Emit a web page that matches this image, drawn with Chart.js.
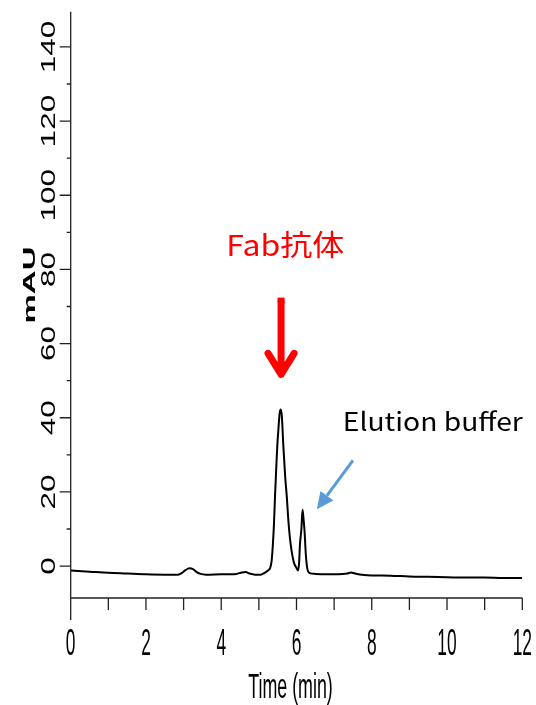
<!DOCTYPE html>
<html>
<head>
<meta charset="utf-8">
<script src="https://cdn.jsdelivr.net/npm/chart.js@4.4.0/dist/chart.umd.min.js"></script>
<style>
  html, body { margin: 0; padding: 0; background: #fff; }
  #chrom { display: block; }
</style>
</head>
<body>
<canvas id="chrom" width="536" height="705"></canvas>
<script>
// retention time (min) and detector response (mAU)
const timeMin = [
  0, 0.5, 1.0, 1.5, 2.0, 2.5, 2.85, 2.95, 3.05, 3.15, 3.25, 3.35, 3.45, 3.6,
  4.0, 4.4, 4.55, 4.65, 4.75, 4.9, 5.05, 5.15, 5.25, 5.3, 5.34, 5.37, 5.40,
  5.43, 5.46, 5.49, 5.52, 5.55, 5.58, 5.61, 5.65, 5.70, 5.74, 5.79, 5.85,
  5.93, 5.99, 6.04, 6.07, 6.09, 6.13, 6.16, 6.18, 6.21, 6.25, 6.29, 6.34,
  6.5, 6.8, 7.1, 7.35, 7.45, 7.55, 7.8, 8.5, 9.0, 9.5, 10.0, 10.5, 11.0,
  11.5, 12.0
];
const absMAU = [
  -1.2, -1.5, -1.8, -2.0, -2.2, -2.3, -2.3, -1.9, -1.1, -0.6, -0.8, -1.6, -2.1, -2.3,
  -2.2, -2.1, -1.7, -1.6, -2.0, -2.3, -2.3, -1.8, -1.1, -0.5, 1.5, 5.5, 11,
  19, 26, 32.5, 37, 41, 42.2, 40.5, 32.5, 24, 19, 11.5, 5.5,
  1.0, -0.3, -1.2, 1.0, 5.5, 10, 15.2, 13.5, 10, 2.8, -0.8, -1.8,
  -2.1, -2.2, -2.2, -2.0, -1.7, -2.0, -2.4, -2.6, -2.8, -2.9, -3.0, -3.1, -3.1,
  -3.2, -3.2
];

const xTicks = [0, 1, 2, 3, 4, 5, 6, 7, 8, 9, 10, 11, 12];
const xLabels = ['0', '', '2', '', '4', '', '6', '', '8', '', '10', '', '12'];
const yMajor = [0, 20, 40, 60, 80, 100, 120, 140];
const yMinor = [10, 30, 50, 70, 90, 110, 130];

const X_MIN = 0, X_MAX = 12;
const Y_MIN = -8.6, Y_MAX = 149.5;

// stretched / condensed text helper; opt.width squeezes or widens to a fixed width
function drawText(ctx, txt, x, y, opt) {
  ctx.save();
  ctx.translate(x, y);
  if (opt.rotate) ctx.rotate(opt.rotate);
  ctx.font = opt.font;
  let sx = opt.sx || 1;
  if (opt.width) sx = opt.width / ctx.measureText(txt).width;
  ctx.scale(sx, 1);
  ctx.fillStyle = opt.color || '#000';
  ctx.textAlign = opt.align || 'center';
  ctx.textBaseline = opt.baseline || 'alphabetic';
  ctx.fillText(txt, 0, opt.dy || 0);
  ctx.restore();
}

const axesPlugin = {
  id: 'axesPlugin',
  afterDraw(chart) {
    const ctx = chart.ctx;
    const xs = chart.scales.x, ys = chart.scales.y;
    const x0 = xs.getPixelForValue(X_MIN), x1 = xs.getPixelForValue(X_MAX);
    const yb = ys.getPixelForValue(Y_MIN), yt = ys.getPixelForValue(Y_MAX);

    ctx.save();
    ctx.strokeStyle = '#222';
    ctx.lineWidth = 1.3;
    ctx.beginPath();
    // y axis (runs past the x axis)
    ctx.moveTo(x0, yt); ctx.lineTo(x0, yb + 22);
    // x axis
    ctx.moveTo(x0, yb); ctx.lineTo(x1, yb);
    xTicks.forEach(v => {
      const px = xs.getPixelForValue(v);
      ctx.moveTo(px, yb); ctx.lineTo(px, yb + 12);
    });
    yMajor.forEach(v => {
      const py = ys.getPixelForValue(v);
      ctx.moveTo(x0 - 11, py); ctx.lineTo(x0, py);
    });
    yMinor.forEach(v => {
      const py = ys.getPixelForValue(v);
      ctx.moveTo(x0 - 4, py); ctx.lineTo(x0, py);
    });
    ctx.stroke();
    ctx.restore();

    // x labels, condensed
    xTicks.forEach((v, i) => {
      if (!xLabels[i]) return;
      drawText(ctx, xLabels[i], xs.getPixelForValue(v), 655,
        { font: '37px "Liberation Sans", Arial, sans-serif', sx: 0.47 });
    });
    drawText(ctx, 'Time (min)', (x0 + x1) / 2 - 6, 698,
      { font: '35px "Liberation Sans", Arial, sans-serif', sx: 0.51 });

    // y labels, rotated and stretched
    yMajor.forEach(v => {
      drawText(ctx, String(v), 47.5, ys.getPixelForValue(v),
        { font: '21px "Liberation Sans", Arial, sans-serif', sx: 1.5,
          rotate: -Math.PI / 2, dy: 7.5 });
    });
    drawText(ctx, 'mAU', 28.5, 285,
      { font: 'bold 16px "Liberation Sans", Arial, sans-serif', width: 77,
        rotate: -Math.PI / 2, dy: 6 });

    // annotations
    ctx.save();
    const ax = xs.getPixelForValue(5.59);
    const aTop = ys.getPixelForValue(72.4), aTip = ys.getPixelForValue(50.9);
    ctx.strokeStyle = '#ff0000';
    ctx.lineWidth = 7;
    ctx.lineCap = 'round';
    ctx.lineJoin = 'round';
    ctx.beginPath();
    ctx.moveTo(ax, aTop + 4); ctx.lineTo(ax, aTip - 3);
    ctx.moveTo(ax - 13, aTip - 24); ctx.lineTo(ax, aTip - 3); ctx.lineTo(ax + 13, aTip - 24);
    ctx.stroke();
    ctx.lineCap = 'butt';
    ctx.beginPath();
    ctx.moveTo(ax, aTop); ctx.lineTo(ax, aTop + 5);
    ctx.stroke();
    ctx.restore();

    drawText(ctx, 'Fab抗体', xs.getPixelForValue(5.7), ys.getPixelForValue(86.7),
      { font: '29px "Noto Sans CJK JP", sans-serif', color: '#ff0000',
        baseline: 'middle', width: 118 });

    drawText(ctx, 'Elution buffer', xs.getPixelForValue(7.23), ys.getPixelForValue(39),
      { font: '25px "Noto Sans CJK JP", "Noto Sans", sans-serif', align: 'left',
        baseline: 'middle', width: 180 });

    // blue arrow toward the buffer peak
    const bx0 = xs.getPixelForValue(7.5), by0 = ys.getPixelForValue(28.5);
    const bx1 = xs.getPixelForValue(6.54), by1 = ys.getPixelForValue(15.3);
    const ang = Math.atan2(by1 - by0, bx1 - bx0);
    const headLen = 17, headW = 8;
    const hx = bx1 - headLen * Math.cos(ang), hy = by1 - headLen * Math.sin(ang);
    ctx.save();
    ctx.strokeStyle = '#5b9bd5';
    ctx.fillStyle = '#5b9bd5';
    ctx.lineWidth = 3;
    ctx.beginPath();
    ctx.moveTo(bx0, by0); ctx.lineTo(hx, hy);
    ctx.stroke();
    ctx.beginPath();
    ctx.moveTo(bx1, by1);
    ctx.lineTo(hx + headW * Math.sin(ang), hy - headW * Math.cos(ang));
    ctx.lineTo(hx - headW * Math.sin(ang), hy + headW * Math.cos(ang));
    ctx.closePath();
    ctx.fill();
    ctx.restore();
  }
};

new Chart(document.getElementById('chrom'), {
  type: 'line',
  data: {
    datasets: [{
      data: timeMin.map((t, i) => ({ x: t, y: absMAU[i] })),
      borderColor: '#000',
      borderWidth: 2,
      pointRadius: 0,
      cubicInterpolationMode: 'monotone',
      fill: false
    }]
  },
  options: {
    responsive: false,
    animation: false,
    devicePixelRatio: 1,
    layout: { padding: { left: 70.7, right: 13.7, top: 11.7, bottom: 107 } },
    plugins: { legend: { display: false }, tooltip: { enabled: false } },
    scales: {
      x: { type: 'linear', min: X_MIN, max: X_MAX, display: false },
      y: { type: 'linear', min: Y_MIN, max: Y_MAX, display: false }
    }
  },
  plugins: [axesPlugin]
});
</script>
</body>
</html>
